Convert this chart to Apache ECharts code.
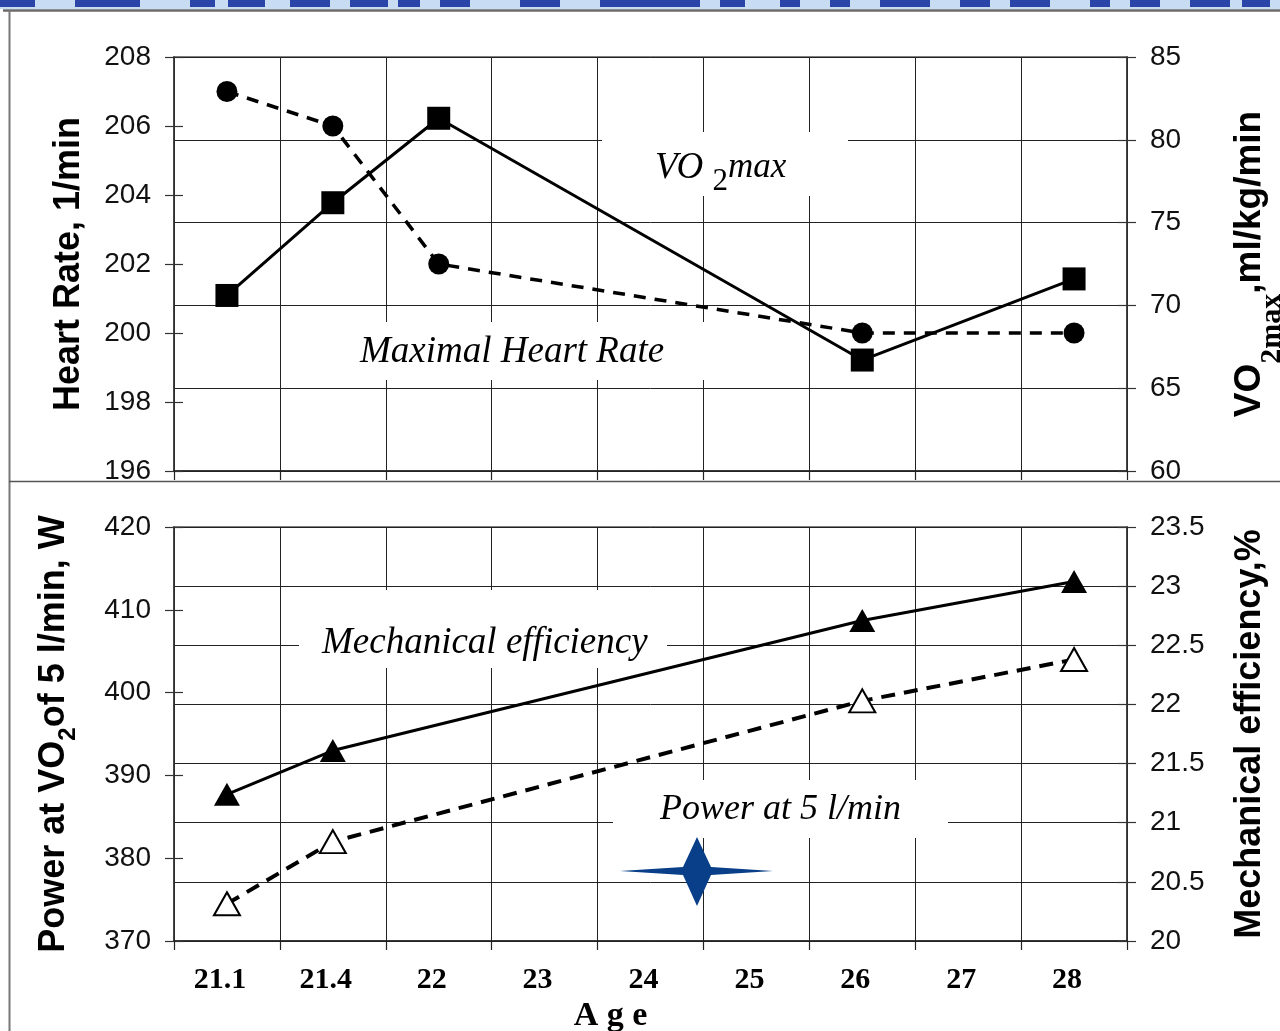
<!DOCTYPE html>
<html>
<head>
<meta charset="utf-8">
<script src="https://cdn.jsdelivr.net/npm/echarts@6/dist/echarts.min.js"></script>
<style>
html,body{margin:0;padding:0;background:#fff;}
#chart{width:1280px;height:1031px;}
</style>
</head>
<body>
<div id="chart"></div>
<script>
// ---- data ----
const ages = ['21.1', '21.4', '22', '23', '24', '25', '26', '27', '28'];
const heartRate = [207, 206, 202, null, null, null, 200, null, 200];      // 1/min, left axis (top)
const vo2max = [70.6, 76.2, 81.3, null, null, null, 66.7, null, 71.6];    // ml/kg/min, right axis (top)
const power = [374.5, 382, null, null, null, null, 399, null, 404];       // W, left axis (bottom)
const mechEff = [21.24, 21.61, null, null, null, null, 22.71, null, 23.04]; // %, right axis (bottom)

const chart = echarts.init(document.getElementById('chart'), null, {renderer: 'canvas'});

const SANS = 'Liberation Sans, Arial, sans-serif';
const SERIF = 'Liberation Serif, Times New Roman, serif';
const INK = '#111';

function yAx(grid, min, max, interval, pos, opts) {
  return Object.assign({
    gridIndex: grid, type: 'value', min: min, max: max, interval: interval, position: pos,
    axisLine: {show: true, lineStyle: {color: '#333', width: 1.5}},
    axisTick: {show: true, inside: false, length: 9, lineStyle: {color: '#333', width: 1.2}},
    axisLabel: {show: true, fontFamily: SANS, fontSize: 28, color: INK, margin: 23},
    splitLine: {show: false}
  }, opts || {});
}
function innerTicks(grid, min, max, interval, pos) {
  return {
    gridIndex: grid, type: 'value', min: min, max: max, interval: interval, position: pos,
    axisLine: {show: false},
    axisTick: {show: true, inside: true, length: 9, lineStyle: {color: '#333', width: 1.2}},
    axisLabel: {show: false}, splitLine: {show: false}
  };
}
const nameStyle = {
  fontFamily: SANS, fontWeight: 'bold', fontSize: 36, color: '#000'
};

const xBase = {
  type: 'category', data: ages, boundaryGap: true,
  axisLine: {show: true, lineStyle: {color: '#222', width: 1.5}},
  axisTick: {show: true, interval: 0, length: 9, lineStyle: {color: '#222', width: 1.2}},
  splitLine: {show: true, interval: 0, lineStyle: {color: '#222', width: 1}}
};

// star decoration points
function star(cx, cy) {
  return [[cx - 77, cy], [cx - 14, cy - 4], [cx, cy - 34], [cx + 14, cy - 4], [cx + 76, cy],
          [cx + 14, cy + 4], [cx, cy + 35], [cx - 14, cy + 4]];
}

const bandBlocks = [[0,35],[75,140],[190,215],[228,265],[290,330],[350,388],[398,420],[440,470],[520,560],[600,700],[720,745],[780,800],[830,850],[880,930],[960,990],[1010,1050],[1090,1110],[1130,1160],[1190,1230],[1242,1270]];

const graphics = [
  {type: 'rect', shape: {x: 0, y: 0, width: 1280, height: 9}, style: {fill: '#c8dcf4'}, z: 1},
  ...bandBlocks.map(b => ({type: 'rect', shape: {x: b[0], y: 0, width: b[1] - b[0], height: 7}, style: {fill: '#2a44a8'}, z: 1})),
  // frame
  {type: 'line', shape: {x1: 3, y1: 10.5, x2: 1280, y2: 10.5}, style: {stroke: '#6a6a6a', lineWidth: 2.5}, z: 1},
  {type: 'line', shape: {x1: 9.5, y1: 10, x2: 9.5, y2: 1031}, style: {stroke: '#777', lineWidth: 2}, z: 1},
  // clip cover below the top panel + separator
  {type: 'rect', shape: {x: 11, y: 482, width: 1269, height: 12}, style: {fill: '#fff'}, zlevel: 1},
  {type: 'line', shape: {x1: 9, y1: 481.5, x2: 1280, y2: 481.5}, style: {stroke: '#555', lineWidth: 1.5}, zlevel: 1},
  // annotation boxes
  {type: 'rect', shape: {x: 602, y: 132, width: 246, height: 64}, style: {fill: '#fff'}, z: 1},
  {type: 'rect', shape: {x: 315, y: 322, width: 400, height: 58}, style: {fill: '#fff'}, z: 1},
  {type: 'rect', shape: {x: 299, y: 590, width: 368, height: 78}, style: {fill: '#fff'}, z: 1},
  {type: 'rect', shape: {x: 613, y: 780, width: 335, height: 58}, style: {fill: '#fff'}, z: 1},
  {type: 'text', x: 655, y: 168, z: 2, style: {
    text: '{a|VO }{b|2}{c|max}', align: 'left', verticalAlign: 'middle', textAlign: 'left', textVerticalAlign: 'middle',
    rich: {
      a: {fontFamily: SERIF, fontStyle: 'italic', fontSize: 37, lineHeight: 40, verticalAlign: 'middle', fill: '#000'},
      b: {fontFamily: SERIF, fontSize: 31, lineHeight: 58, verticalAlign: 'bottom', fill: '#000'},
      c: {fontFamily: SERIF, fontStyle: 'italic', fontSize: 35, lineHeight: 40, verticalAlign: 'middle', fill: '#000'}
    }}},
  {type: 'text', x: 360, y: 352, z: 2, style: {text: 'Maximal Heart Rate', font: 'italic 37px ' + SERIF, fill: '#000', align: 'left', verticalAlign: 'middle', textAlign: 'left', textVerticalAlign: 'middle'}},
  {type: 'text', x: 322, y: 643, z: 2, style: {text: 'Mechanical efficiency', font: 'italic 37px ' + SERIF, fill: '#000', align: 'left', verticalAlign: 'middle', textAlign: 'left', textVerticalAlign: 'middle'}},
  {type: 'text', x: 660, y: 810, z: 2, style: {text: 'Power at 5 l/min', font: 'italic 36px ' + SERIF, fill: '#000', align: 'left', verticalAlign: 'middle', textAlign: 'left', textVerticalAlign: 'middle'}},
  {type: 'polygon', shape: {points: star(697, 871)}, style: {fill: '#083f88'}, z: 2}
];

const option = {
  animation: false,
  backgroundColor: '#fff',
  grid: [
    {left: 174, right: 153, top: 57, height: 414, show: true, borderColor: '#808080', borderWidth: 2, backgroundColor: 'transparent', containLabel: false, outerBoundsMode: 'none'},
    {left: 174, right: 153, top: 527, height: 414, show: true, borderColor: '#808080', borderWidth: 2, backgroundColor: 'transparent', containLabel: false, outerBoundsMode: 'none'}
  ],
  xAxis: [
    Object.assign({gridIndex: 0, axisLabel: {show: false}}, xBase),
    Object.assign({gridIndex: 1,
      axisLabel: {show: true, interval: 0, fontFamily: SERIF, fontWeight: 'bold', fontSize: 30, color: '#000', margin: 24, padding: [0, 14, 0, 0]},
      name: 'A g e', nameLocation: 'middle', nameGap: 58,
      nameTextStyle: {fontFamily: SERIF, fontWeight: 'bold', fontSize: 34, color: '#000', padding: [0, 80, 0, 0]}
    }, xBase)
  ],
  yAxis: [
    yAx(0, 196, 208, 2, 'left', {name: 'Heart Rate, 1/min', nameLocation: 'middle', nameRotate: 90, nameGap: 87, nameTextStyle: nameStyle}),
    yAx(0, 60, 85, 5, 'right', {
      splitLine: {show: true, lineStyle: {color: '#222', width: 1}},
      name: 'VO{s|2max},ml/kg/min', nameLocation: 'middle', nameRotate: 90, nameGap: 86,
      nameTextStyle: Object.assign({}, nameStyle, {fontSize: 37, lineHeight: 40, rich: {
        s: {fontFamily: SERIF, fontWeight: 'bold', fontSize: 30, lineHeight: 74, verticalAlign: 'bottom', color: '#000'}
      }})
    }),
    innerTicks(0, 196, 208, 2, 'left'),
    innerTicks(0, 60, 85, 5, 'right'),
    yAx(1, 370, 420, 10, 'left', {
      name: 'Power at VO{s|2}of 5 l/min, W', nameLocation: 'middle', nameRotate: 90, nameGap: 94,
      nameTextStyle: Object.assign({}, nameStyle, {lineHeight: 40, rich: {
        s: {fontFamily: SANS, fontWeight: 'bold', fontSize: 24, lineHeight: 52, verticalAlign: 'bottom', color: '#000'}
      }})
    }),
    yAx(1, 20, 23.5, 0.5, 'right', {
      splitLine: {show: true, lineStyle: {color: '#222', width: 1}},
      name: 'Mechanical efficiency,%', nameLocation: 'middle', nameRotate: 90, nameGap: 105, nameTextStyle: nameStyle
    }),
    innerTicks(1, 370, 420, 10, 'left'),
    innerTicks(1, 20, 23.5, 0.5, 'right')
  ],
  series: [
    {name: 'VO2max', type: 'line', xAxisIndex: 0, yAxisIndex: 1, data: vo2max, connectNulls: true,
     symbol: 'rect', symbolSize: 23, itemStyle: {color: '#000'}, lineStyle: {color: '#000', width: 3}, z: 5},
    {name: 'Maximal Heart Rate', type: 'line', xAxisIndex: 0, yAxisIndex: 0, data: heartRate, connectNulls: true,
     symbol: 'circle', symbolSize: 21, itemStyle: {color: '#000'}, lineStyle: {color: '#000', width: 3.5, type: [12, 9]}, z: 5},
    {name: 'Mechanical efficiency', type: 'line', xAxisIndex: 1, yAxisIndex: 5, data: mechEff, connectNulls: true,
     symbol: 'triangle', symbolSize: [26, 23], itemStyle: {color: '#000'}, lineStyle: {color: '#000', width: 3}, z: 5},
    {name: 'Power at 5 l/min', type: 'line', xAxisIndex: 1, yAxisIndex: 4, data: power, connectNulls: true,
     symbol: 'triangle', symbolSize: [26, 23], itemStyle: {color: '#fff', borderColor: '#000', borderWidth: 2},
     lineStyle: {color: '#000', width: 4, type: [14, 9]}, z: 5}
  ],
  graphic: {elements: graphics}
};
chart.setOption(option);
</script>
</body>
</html>
